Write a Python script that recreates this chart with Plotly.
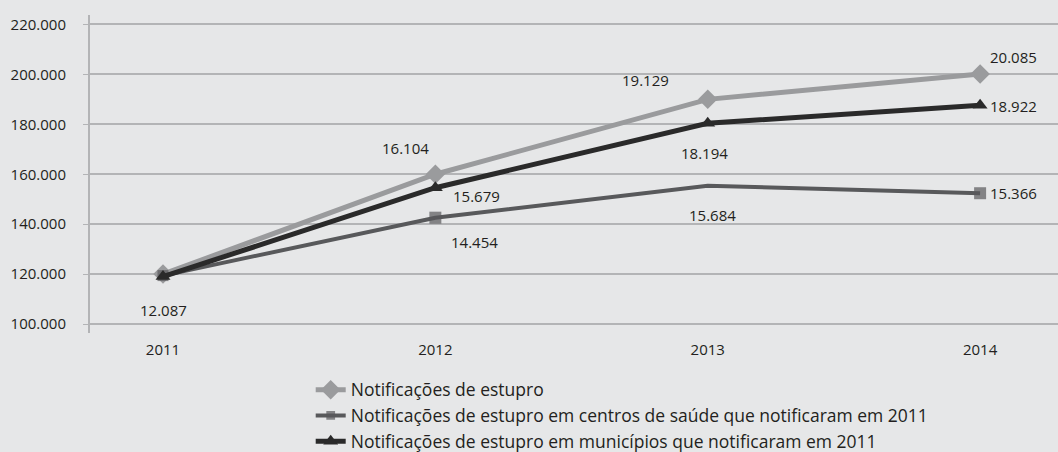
import plotly.graph_objects as go

years = [2011, 2012, 2013, 2014]
series_names = [
    "Notificações de estupro",
    "Notificações de estupro em centros de saúde que notificaram em 2011",
    "Notificações de estupro em municípios que notificaram em 2011",
]
# plotted positions (in thousands)
s1_values = [120.0, 160.0, 190.0, 200.2]
s2_values = [119.4, 142.6, 155.4, 152.4]
s3_values = [119.0, 154.6, 180.4, 187.6]
# data labels as printed
s1_labels = ["12.087", "16.104", "19.129", "20.085"]
s2_labels = ["", "14.454", "15.684", "15.366"]
s3_labels = ["", "15.679", "18.194", "18.922"]
y_ticks = [100, 120, 140, 160, 180, 200, 220]
y_ticklabels = ["100.000", "120.000", "140.000", "160.000", "180.000", "200.000", "220.000"]

BG = "#e6e7e8"
C1 = "#9a9b9d"
C2 = "#58595b"
C3 = "#2a2a2a"
TXT = "#231f20"
GRID = "#b3b4b6"
FONT = "Open Sans"

fig = go.Figure()
fig.add_trace(go.Scatter(x=years, y=s1_values, name=series_names[0], mode="lines+markers",
                         line=dict(color=C1, width=5),
                         marker=dict(symbol="diamond", size=15, color=C1)))
fig.add_trace(go.Scatter(x=years, y=s2_values, name=series_names[1], mode="lines+markers",
                         line=dict(color=C2, width=4),
                         marker=dict(symbol="square", size=[11, 12, 0, 12], color=C2,
                                     line=dict(width=0))))
fig.add_trace(go.Scatter(x=years, y=s3_values, name=series_names[2], mode="lines+markers",
                         line=dict(color=C3, width=5),
                         marker=dict(symbol="triangle-up", size=13, color=C3)))

# label offsets (pixels) relative to each point
off1 = [(1, -36), (-30, 26), (-62, 19), (33, 17)]
off2 = [None, (39, -24), (5, -29), (33, 0)]
off3 = [None, (41, -8), (-3, -30), (33, -1)]

for vals, labs, offs in [(s1_values, s1_labels, off1), (s2_values, s2_labels, off2), (s3_values, s3_labels, off3)]:
    for x, y, t, o in zip(years, vals, labs, offs):
        if not t or o is None:
            continue
        fig.add_annotation(x=x, y=y, text=t, showarrow=False, xshift=o[0], yshift=o[1],
                           font=dict(family=FONT, size=15, color=TXT))

fig.update_layout(
    width=1058, height=452,
    paper_bgcolor=BG, plot_bgcolor=BG,
    margin=dict(l=90, r=0, t=15, b=119, autoexpand=False),
    font=dict(family=FONT, size=15, color=TXT),
    showlegend=True,
    legend=dict(x=0.228, y=-0.122, xanchor="left", yanchor="top", bgcolor="rgba(0,0,0,0)",
                font=dict(family=FONT, size=17.5, color=TXT), tracegroupgap=0, itemwidth=30),
    xaxis=dict(range=[2010.732, 2014.286], tickvals=years, ticktext=[str(y) for y in years],
               showgrid=False, zeroline=False, showline=False, ticks="", ticklabelstandoff=6,
               tickfont=dict(family=FONT, size=15, color=TXT)),
    yaxis=dict(range=[96.4, 223.8], tickvals=y_ticks, ticktext=y_ticklabels,
               showgrid=True, gridcolor=GRID, gridwidth=1.5, zeroline=False,
               showline=True, linecolor=GRID, linewidth=2, ticks="outside", ticklen=5,
               tickcolor=GRID, ticklabelstandoff=14,
               tickfont=dict(family=FONT, size=15, color=TXT)),
)

fig.write_html("out.html", config={"displayModeBar": False},
               post_script="document.body.style.margin='0';document.body.style.overflow='hidden';")
